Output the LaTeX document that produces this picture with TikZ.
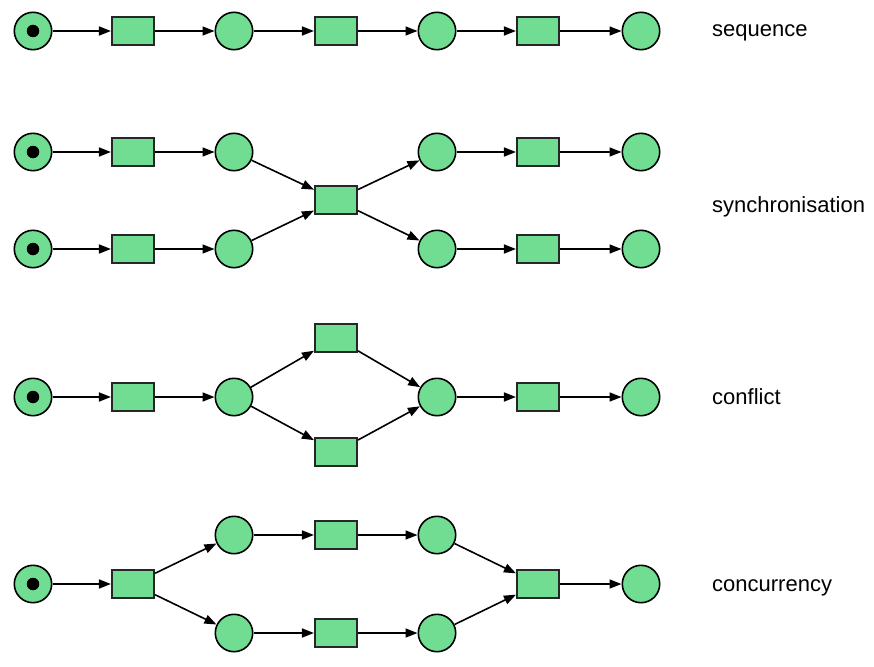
\documentclass[tikz,border=0pt]{standalone}
\usepackage{fontspec}
\setmainfont{Liberation Sans}
\usetikzlibrary{arrows.meta}
\definecolor{petri}{RGB}{112,221,147}
\tikzset{
  place/.style={circle,draw=black,fill=petri,line width=1.6pt,minimum size=37.4pt,inner sep=0pt},
  trans/.style={rectangle,draw=black!85,fill=petri,line width=1.6pt,minimum width=42.5pt,minimum height=27.5pt,inner sep=0pt},
  token/.style={circle,fill=black,minimum size=12.5pt,inner sep=0pt},
  arc/.style={line width=1.6pt,-{Triangle[length=12pt,width=9pt]}},
  lbl/.style={anchor=base west,font=\fontsize{22}{24}\selectfont,inner sep=0pt}
}
\begin{document}
\begin{tikzpicture}[x=1pt,y=-1pt]
\useasboundingbox (0,0) rectangle (874,666);
% ---------- sequence ----------
\node[place] (a1) at (33,31) {};
\node[token] (a1t) at (33,31) {};
\node[trans] (a2) at (133,31) {};
\node[place] (a3) at (234,31) {};
\node[trans] (a4) at (336,31) {};
\node[place] (a5) at (437,31) {};
\node[trans] (a6) at (538,31) {};
\node[place] (a7) at (641,31) {};
\draw[arc] (a1) -- (a2);
\draw[arc] (a2) -- (a3);
\draw[arc] (a3) -- (a4);
\draw[arc] (a4) -- (a5);
\draw[arc] (a5) -- (a6);
\draw[arc] (a6) -- (a7);
\node[lbl] (la) at (712,37) {sequence};
% ---------- synchronisation ----------
\node[place] (b1) at (33,152) {};
\node[token] (b1t) at (33,152) {};
\node[trans] (b2) at (133,152) {};
\node[place] (b3) at (234,152) {};
\node[place] (c1) at (33,249) {};
\node[token] (c1t) at (33,249) {};
\node[trans] (c2) at (133,249) {};
\node[place] (c3) at (234,249) {};
\node[trans] (s) at (336,200) {};
\node[place] (b5) at (437,152) {};
\node[trans] (b6) at (538,152) {};
\node[place] (b7) at (641,152) {};
\node[place] (c5) at (437,249) {};
\node[trans] (c6) at (538,249) {};
\node[place] (c7) at (641,249) {};
\draw[arc] (b1) -- (b2);
\draw[arc] (b2) -- (b3);
\draw[arc] (c1) -- (c2);
\draw[arc] (c2) -- (c3);
\draw[arc] (b3) -- (s);
\draw[arc] (c3) -- (s);
\draw[arc] (s) -- (b5);
\draw[arc] (s) -- (c5);
\draw[arc] (b5) -- (b6);
\draw[arc] (b6) -- (b7);
\draw[arc] (c5) -- (c6);
\draw[arc] (c6) -- (c7);
\node[lbl] (lb) at (712,212) {synchronisation};
% ---------- conflict ----------
\node[place] (d1) at (33,397) {};
\node[token] (d1t) at (33,397) {};
\node[trans] (d2) at (133,397) {};
\node[place] (d3) at (234,397) {};
\node[trans] (du) at (336,338) {};
\node[trans] (dl) at (336,452) {};
\node[place] (d5) at (437,397) {};
\node[trans] (d6) at (538,397) {};
\node[place] (d7) at (641,397) {};
\draw[arc] (d1) -- (d2);
\draw[arc] (d2) -- (d3);
\draw[arc] (d3) -- (du);
\draw[arc] (d3) -- (dl);
\draw[arc] (du) -- (d5);
\draw[arc] (dl) -- (d5);
\draw[arc] (d5) -- (d6);
\draw[arc] (d6) -- (d7);
\node[lbl] (lc) at (712,404) {conflict};
% ---------- concurrency ----------
\node[place] (e1) at (33,584) {};
\node[token] (e1t) at (33,584) {};
\node[trans] (e2) at (133,584) {};
\node[place] (eu3) at (234,535) {};
\node[trans] (eu4) at (336,535) {};
\node[place] (eu5) at (437,535) {};
\node[place] (el3) at (234,633) {};
\node[trans] (el4) at (336,633) {};
\node[place] (el5) at (437,633) {};
\node[trans] (e6) at (538,584) {};
\node[place] (e7) at (641,584) {};
\draw[arc] (e1) -- (e2);
\draw[arc] (e2) -- (eu3);
\draw[arc] (e2) -- (el3);
\draw[arc] (eu3) -- (eu4);
\draw[arc] (eu4) -- (eu5);
\draw[arc] (el3) -- (el4);
\draw[arc] (el4) -- (el5);
\draw[arc] (eu5) -- (e6);
\draw[arc] (el5) -- (e6);
\draw[arc] (e6) -- (e7);
\node[lbl] (ld) at (712,591) {concurrency};
\end{tikzpicture}
\end{document}
